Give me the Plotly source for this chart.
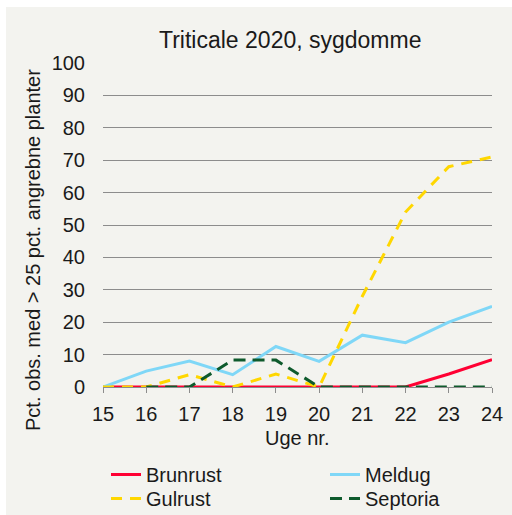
import plotly.graph_objects as go

weeks = [15, 16, 17, 18, 19, 20, 21, 22, 23, 24]
brunrust = [0, 0, 0, 0, 0, 0, 0, 0, 4.0, 8.4]
meldug = [0, 4.9, 8.0, 3.8, 12.5, 7.9, 16.0, 13.7, 20.0, 24.9]
gulrust = [0, 0, 3.8, 0, 4.0, 0, 28, 54, 68, 71]
septoria = [None, 0, 0, 8.3, 8.3, 0, 0, 0, 0, 0]
y_ticks = [0, 10, 20, 30, 40, 50, 60, 70, 80, 90, 100]

W, H = 512, 515
L, R, T, B = 103, 20, 63, 128
pw, ph = W - L - R, H - T - B

def px_x(p):
    return (p - L) / pw

def px_y(p):
    return (H - B - p) / ph

FONT = "Liberation Sans, Arial, sans-serif"
TXT = "#1a1a1a"

fig = go.Figure()
# name, values, colour, dash, legend id, legend left px, legend top px
series = [
    ("Brunrust", brunrust, "#FF0033", "solid", "legend", 106, 455),
    ("Meldug", meldug, "#7FD7F7", "solid", "legend2", 325, 455),
    ("Gulrust", gulrust, "#FFD700", "11px,8px", "legend3", 106, 479),
    ("Septoria", septoria, "#0E5A2C", "12px,7px", "legend4", 325, 479),
]
legends = {}
for name, vals, col, dash, lg, lx, ly in series:
    fig.add_trace(go.Scatter(
        x=weeks, y=vals, name=name, mode="lines", legend=lg,
        line=dict(color=col, width=3, dash=dash, shape="linear"),
        connectgaps=False,
    ))
    legends[lg] = dict(
        orientation="v", xanchor="left", yanchor="top",
        x=px_x(lx), y=px_y(ly),
        font=dict(size=20, family=FONT, color=TXT),
        bgcolor="rgba(0,0,0,0)",
    )

fig.add_shape(type="rect", xref="paper", yref="paper",
              x0=px_x(6), x1=px_x(W + 5), y0=px_y(H + 5), y1=px_y(7),
              fillcolor="#F3F3EF", line=dict(width=0), layer="below")

fig.update_layout(
    width=W, height=H,
    margin=dict(l=L, r=R, t=T, b=B, autoexpand=False),
    paper_bgcolor="white",
    plot_bgcolor="rgba(0,0,0,0)",
    font=dict(family=FONT, size=20, color=TXT),
    showlegend=True,
    xaxis=dict(
        range=[15, 24], tickmode="array", tickvals=weeks,
        ticktext=[str(w) for w in weeks],
        showgrid=False, zeroline=False,
        showline=True, linecolor="#8C8C8C", linewidth=1,
        ticks="outside", ticklen=5, tickcolor="#8C8C8C",
        tickfont=dict(size=20, family=FONT, color=TXT),
        ticklabelstandoff=4,
    ),
    yaxis=dict(
        range=[0, 100], tickmode="array", tickvals=y_ticks,
        showgrid=True, gridcolor="#8C8C8C", gridwidth=1,
        zeroline=False, showline=False, ticks="",
        tickfont=dict(size=20, family=FONT, color=TXT),
        ticklabelstandoff=17,
    ),
    annotations=[
        dict(text="Triticale 2020, sygdomme", xref="paper", yref="paper",
             x=px_x(290), y=px_y(40), xanchor="center", yanchor="middle",
             showarrow=False, font=dict(size=23, family=FONT, color=TXT)),
        dict(text="Pct. obs. med > 25 pct. angrebne planter", xref="paper", yref="paper",
             x=px_x(33), y=px_y(250), xanchor="center", yanchor="middle", textangle=-90,
             showarrow=False, font=dict(size=20, family=FONT, color=TXT)),
        dict(text="Uge nr.", xref="paper", yref="paper",
             x=px_x(297), y=px_y(438), xanchor="center", yanchor="middle",
             showarrow=False, font=dict(size=20, family=FONT, color=TXT)),
    ],
    **legends,
)

fig.write_html("out.html", config={"displayModeBar": False},
               post_script="document.body.style.margin='0';document.body.style.overflow='hidden';")
